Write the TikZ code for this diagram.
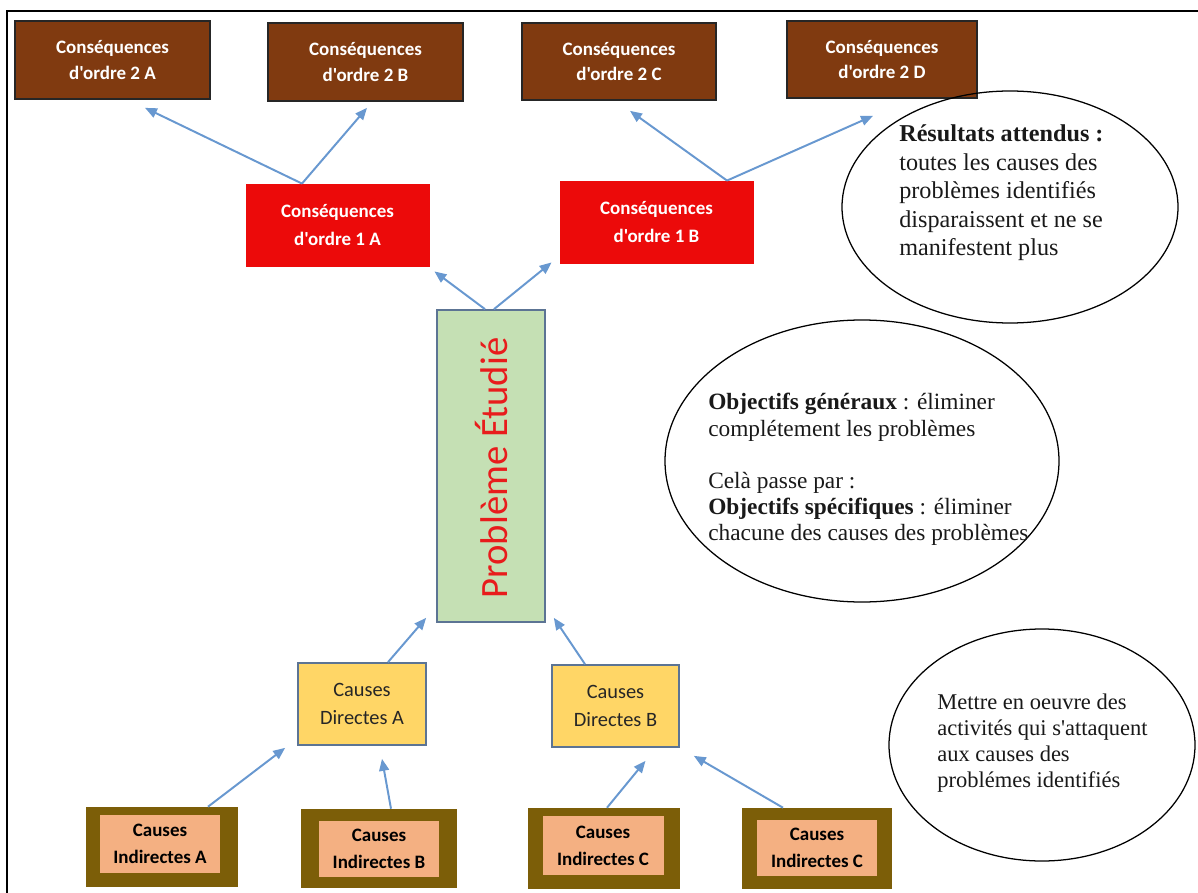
\documentclass[tikz,border=0pt]{standalone}
\usepackage{fontspec}
\setmainfont{Liberation Serif}
\newfontfamily\plainserif{Liberation Serif}
\newfontfamily\calib{Carlito}
\usetikzlibrary{arrows.meta,shapes.geometric}

\definecolor{brownfill}{RGB}{128,58,16}
\definecolor{redfill}{RGB}{236,10,10}
\definecolor{greenfill}{RGB}{197,224,180}
\definecolor{slateline}{RGB}{92,116,148}
\definecolor{yellowfill}{RGB}{255,214,102}
\definecolor{indirframe}{RGB}{124,94,8}
\definecolor{indirinner}{RGB}{244,176,130}
\definecolor{arrowblue}{RGB}{104,152,208}
\definecolor{problemred}{RGB}{232,28,28}

\newcommand{\pxl}{0.025cm}

\tikzset{
  cons2/.style={draw=black!85, line width=1.2pt, fill=brownfill, text=white,
    align=center, inner sep=0pt, font=\calib\bfseries\fontsize{13.5}{18}\selectfont},
  cons1/.style={draw=redfill, line width=0.6pt, fill=redfill, text=white,
    align=center, inner sep=0pt, font=\calib\bfseries\fontsize{13.5}{20}\selectfont},
  probbox/.style={draw=slateline, line width=1.2pt, fill=greenfill, inner sep=0pt},
  direct/.style={draw=slateline, line width=1.2pt, fill=yellowfill, text=black!85,
    align=center, inner sep=0pt, font=\calib\fontsize{14.5}{20.5}\selectfont},
  indirout/.style={fill=indirframe, inner sep=0pt},
  indirin/.style={fill=indirinner, text=black, align=center, inner sep=0pt,
    font=\calib\bfseries\fontsize{13.5}{19}\selectfont},
  arr/.style={draw=arrowblue, line width=1.4pt, -{Triangle[length=8.5pt,width=7pt]}},
  bubble/.style={ellipse, draw=black, line width=0.9pt, inner sep=0pt},
  etext/.style={align=left, inner sep=0pt, text=black!90},
  frameline/.style={draw=black, line width=1.6pt}
}

\begin{document}
\begin{tikzpicture}[x=0.025cm,y=-0.025cm]
\useasboundingbox (0,0) rectangle (1198,893);

% page frame (top and left edges)
\coordinate (fr0) at (7,11);
\coordinate (frR) at (1198,11);
\coordinate (frB) at (7,893);
\draw[frameline] (frR) -- (fr0) -- (frB);

% second-order consequences
\node[cons2, minimum width=195*\pxl, minimum height=78*\pxl] (c2a) at (112.5,60) {Conséquences\\d'ordre 2 A};
\node[cons2, minimum width=195*\pxl, minimum height=78*\pxl] (c2b) at (365.5,62) {Conséquences\\d'ordre 2 B};
\node[cons2, minimum width=194*\pxl, minimum height=77*\pxl] (c2c) at (619,61.5) {Conséquences\\d'ordre 2 C};
\node[cons2, minimum width=190*\pxl, minimum height=77*\pxl] (c2d) at (882,59.5) {Conséquences\\d'ordre 2 D};

% first-order consequences
\node[cons1, minimum width=183*\pxl, minimum height=82*\pxl] (c1a) at (337.5,225) {Conséquences\\d'ordre 1 A};
\node[cons1, minimum width=193*\pxl, minimum height=82*\pxl] (c1b) at (656.5,222) {Conséquences\\d'ordre 1 B};

% studied problem
\node[probbox, minimum width=108*\pxl, minimum height=312*\pxl] (pb) at (491,466) {};
\node[rotate=90, text=problemred, inner sep=0pt, font=\calib\fontsize{27.5}{32}\selectfont] (pblabel) at ([yshift=-2*\pxl]pb.center) {Problème Étudié};

% direct causes
\node[direct, minimum width=128*\pxl, minimum height=82*\pxl] (da) at (362,704) {Causes\\Directes A};
\node[direct, minimum width=127*\pxl, minimum height=82*\pxl] (db) at (615.5,706) {Causes\\Directes B};

% indirect causes (dark frame with light inner panel)
\node[indirout, minimum width=152*\pxl, minimum height=80*\pxl] (ia) at (162,847) {};
\node[indirin, minimum width=120*\pxl, minimum height=58*\pxl] (iain) at (160,844) {Causes\\Indirectes A};
\node[indirout, minimum width=156*\pxl, minimum height=79*\pxl] (ib) at (379,848.5) {};
\node[indirin, minimum width=120*\pxl, minimum height=56*\pxl] (ibin) at (379,849) {Causes\\Indirectes B};
\node[indirout, minimum width=152*\pxl, minimum height=81*\pxl] (ic) at (604,848.5) {};
\node[indirin, minimum width=121*\pxl, minimum height=59*\pxl] (icin) at (603,845.5) {Causes\\Indirectes C};
\node[indirout, minimum width=150*\pxl, minimum height=81*\pxl] (id) at (817,848.5) {};
\node[indirin, minimum width=120*\pxl, minimum height=56*\pxl] (idin) at (817,848) {Causes\\Indirectes C};

% connectors
\draw[arr] ([xshift=46*\pxl]ia.north) -- ([shift={(-12,2)}]da.south west);
\draw[arr] ([xshift=12*\pxl]ib.north) -- ([shift={(20,13)}]da.south);
\draw[arr] ([xshift=3*\pxl]ic.north) -- ([shift={(30,13)}]db.south);
\draw[arr] ([xshift=-34*\pxl]id.north) -- ([shift={(14,8)}]db.south east);
\draw[arr] ([xshift=26*\pxl]da.north) -- ([shift={(-10,-5)}]pb.south west);
\draw[arr] ([xshift=-30.5*\pxl]db.north) -- ([shift={(8,-5)}]pb.south east);
\draw[arr] ([xshift=-6*\pxl]pb.north) -- ([shift={(5,5)}]c1a.south east);
\draw[arr] ([xshift=3*\pxl]pb.north) -- ([shift={(-8,-1)}]c1b.south west);
\draw[arr] ([xshift=-35.5*\pxl]c1a.north) -- ([shift={(32.5,8)}]c2a.south);
\draw[arr] ([xshift=-35.5*\pxl]c1a.north) -- ([shift={(1.5,6)}]c2b.south);
\draw[arr] ([xshift=70.5*\pxl]c1b.north) -- ([shift={(11,10)}]c2c.south);
\draw[arr] ([xshift=70.5*\pxl]c1b.north) -- ([shift={(-9,17)}]c2d.south);

% objective bubbles
\node[bubble, minimum width=336*\pxl, minimum height=232*\pxl] (e1) at (1010,207) {};
\node[bubble, minimum width=394*\pxl, minimum height=282*\pxl] (e2) at (862,461) {};
\node[bubble, minimum width=306*\pxl, minimum height=232*\pxl] (e3) at (1042,745) {};

\node[etext, anchor=west, font=\plainserif\fontsize{17.2}{20.3}\selectfont] (t1) at (899,193)
  {\textbf{Résultats attendus :}\\toutes les causes des\\problèmes identifiés\\disparaissent et ne se\\manifestent plus};
\node[etext, anchor=west, font=\plainserif\fontsize{16.6}{18.6}\selectfont] (t2) at (708,469.5)
  {\textbf{Objectifs généraux} : éliminer\\complétement les problèmes\\[18.6pt]Celà passe par :\\\textbf{Objectifs spécifiques} : éliminer\\chacune des causes des problèmes};
\node[etext, anchor=west, font=\plainserif\fontsize{16}{18.5}\selectfont] (t3) at (937,743)
  {Mettre en oeuvre des\\activités qui s'attaquent\\aux causes des\\problémes identifiés};
\end{tikzpicture}
\end{document}
